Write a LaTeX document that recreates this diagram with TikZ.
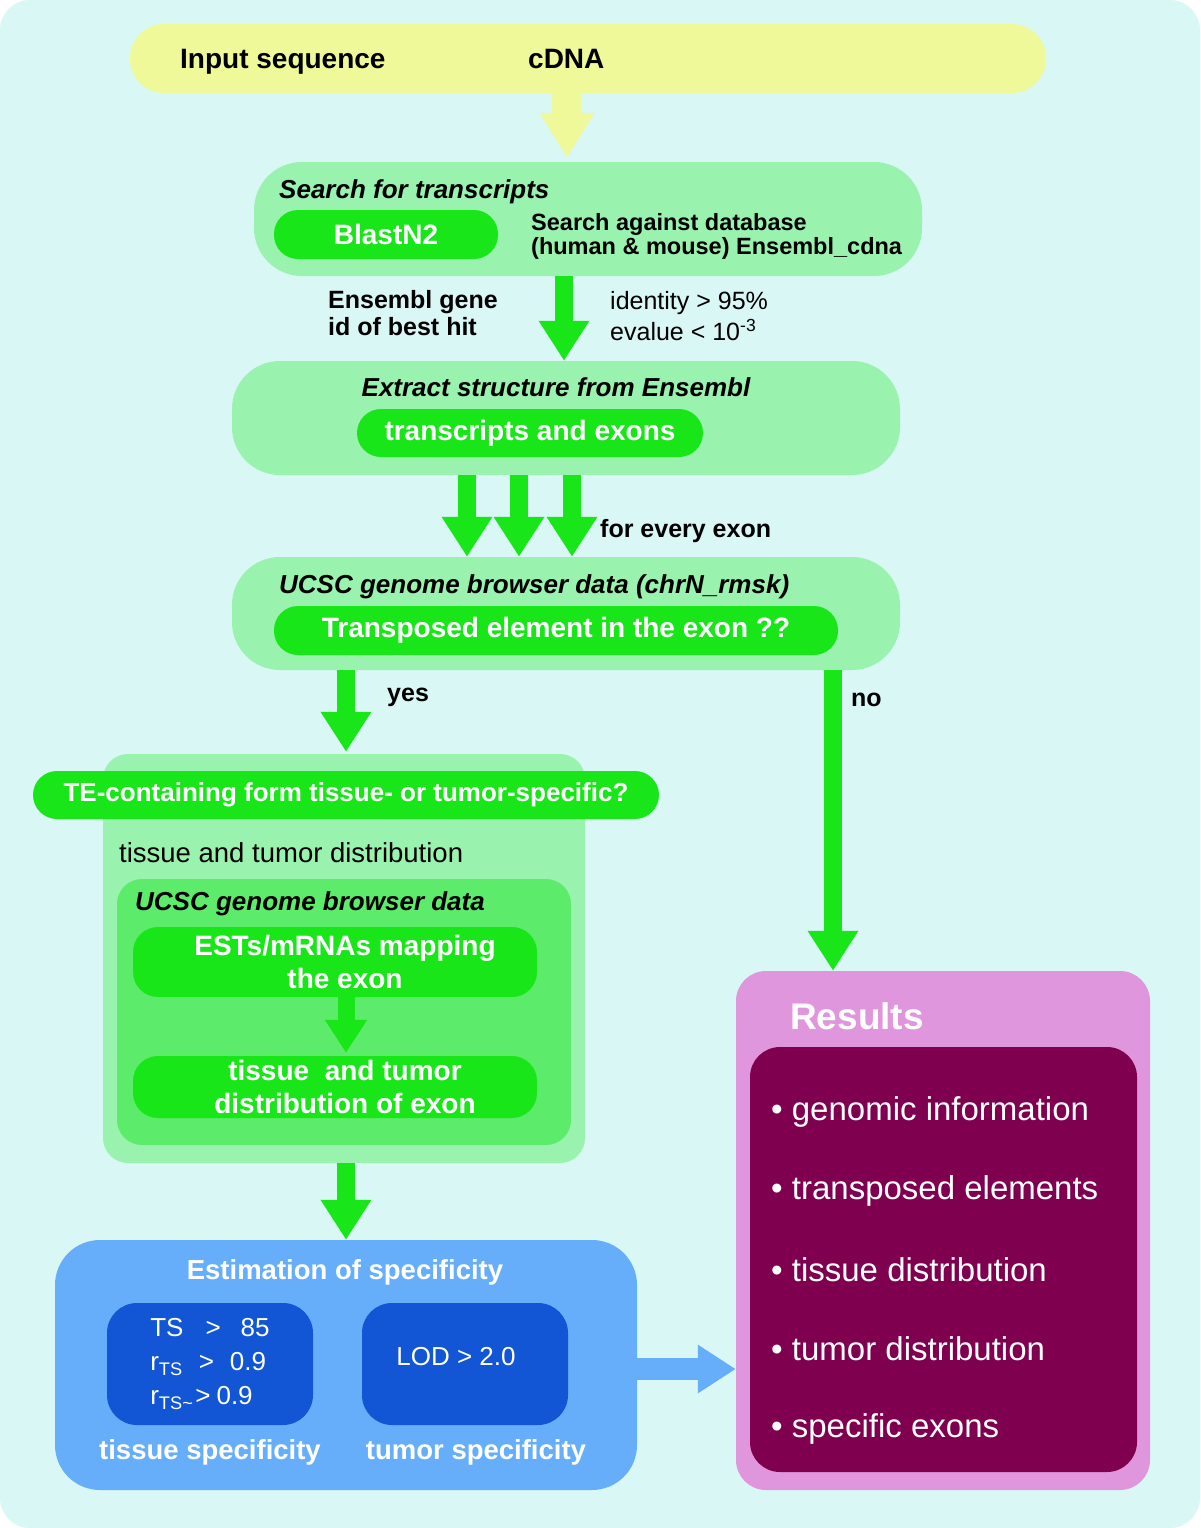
\documentclass[tikz,border=0pt]{standalone}
\usepackage{fontspec}
\setmainfont{Liberation Sans}
\usepackage{tikz}
\usetikzlibrary{arrows.meta}

\definecolor{bgcyan}{HTML}{D9F7F5}
\definecolor{inputyellow}{HTML}{EFF99A}
\definecolor{palegreen}{HTML}{99F2AD}
\definecolor{vividgreen}{HTML}{19E619}
\definecolor{midgreen}{HTML}{5CEB6B}
\definecolor{skyblue}{HTML}{66AEF9}
\definecolor{deepblue}{HTML}{1256D6}
\definecolor{resultpink}{HTML}{E096DC}
\definecolor{resultplum}{HTML}{800050}

\newcommand{\bigfont}{\fontsize{28}{32}\selectfont\bfseries}
\newcommand{\titlefont}{\fontsize{26}{30}\selectfont\bfseries\itshape}
\newcommand{\pillfont}{\fontsize{28}{33}\selectfont\bfseries}
\newcommand{\labelfont}{\fontsize{25}{27}\selectfont\bfseries}
\newcommand{\plainfont}{\fontsize{25}{31}\selectfont}

\begin{document}
\begin{tikzpicture}[x=1pt, y=-1pt,
    panel/.style={fill=palegreen, rounded corners=48pt, inner sep=0pt},
    pill/.style={fill=vividgreen, rounded corners=24pt, inner sep=0pt, text=white, font=\pillfont, align=center},
    boxtitle/.style={font=\titlefont, anchor=west, inner sep=0pt, yshift=-2pt},
    note/.style={font=\labelfont, anchor=west, inner sep=0pt, align=left, yshift=-2pt},
    fat/.style={vividgreen, line width=18pt, -{Triangle[width=48pt,length=40pt]}},
    darkbox/.style={fill=deepblue, rounded corners=30pt, inner sep=0pt, text=white, minimum width=206pt, minimum height=122pt}]
    \useasboundingbox (0,0) rectangle (1200,1528);
    \fill [bgcyan, rounded corners=30pt] (0,0) rectangle (1200,1528);

    \node [fill=inputyellow, rounded corners=34pt, inner sep=0pt, minimum width=916pt, minimum height=69pt] (input) at (588,58.5) {};
    \node [font=\bigfont, anchor=base west, inner sep=0pt] (inlabel) at (180,68) {Input sequence};
    \node [font=\bigfont, anchor=base west, inner sep=0pt] (cdna) at (528,68) {cDNA};

    \node [panel, minimum width=668pt, minimum height=114pt] (search) at (588,219) {};
    \node [boxtitle] (searchtitle) at (279,190) {Search for transcripts};
    \node [pill, minimum width=224pt, minimum height=49pt] (blast) at (386,234.5) {BlastN2};
    \node [note, font=\fontsize{23.5}{24}\selectfont\bfseries] (db) at (531,234) {Search against database\\(human \& mouse) Ensembl\_cdna};
    \node [note] (besthit) at (328,311) {Ensembl gene\\id of best hit};
    \node [note, font=\plainfont] (cutoff) at (610,314) {identity > 95\%\\evalue < 10\textsuperscript{-3}};

    \node [panel, minimum width=668pt, minimum height=114pt] (extract) at (566,418) {};
    \node [font=\titlefont, inner sep=0pt, yshift=-2pt] (extracttitle) at (556,385) {Extract structure from Ensembl};
    \node [pill, minimum width=346pt, minimum height=48pt] (exons) at (530,433) {transcripts and exons};
    \node [note] (every) at (600,529) {for every exon};

    \node [panel, minimum width=668pt, minimum height=113pt] (ucsc) at (566,613.5) {};
    \node [boxtitle] (ucsctitle) at (279,585) {UCSC genome browser data (chrN\_rmsk)};
    \node [pill, minimum width=564pt, minimum height=49pt] (te) at (556,630.5) {Transposed element in the exon ??};
    \node [note] (yes) at (387,695) {yes};
    \node [note] (no) at (851,698) {no};

    \node [panel, rounded corners=25pt, minimum width=482pt, minimum height=409pt] (dist) at (344,958.5) {};
    \node [pill, font=\fontsize{26}{30}\selectfont\bfseries, minimum width=626pt, minimum height=48pt] (tequestion) at (346,795) {TE-containing form tissue- or tumor-specific?};
    \node [note, font=\fontsize{27.5}{30}\selectfont] (disttitle) at (119,851) {tissue and tumor distribution};
    \node [fill=midgreen, rounded corners=25pt, inner sep=0pt, minimum width=454pt, minimum height=266pt] (browser) at (344,1012) {};
    \node [boxtitle] (browsertitle) at (135,902) {UCSC genome browser data};
    \node [pill, rounded corners=25pt, minimum width=404pt, minimum height=70pt] (ests) at (335,962) {\hspace*{20pt}ESTs/mRNAs mapping\\\hspace*{20pt}the exon};
    \node [pill, rounded corners=25pt, minimum width=404pt, minimum height=62pt] (exondist) at (335,1087) {\hspace*{20pt}tissue\ \ and tumor\\\hspace*{20pt}distribution of exon};

    \node [fill=skyblue, rounded corners=45pt, inner sep=0pt, minimum width=582pt, minimum height=250pt] (est) at (346,1365) {};
    \node [font=\fontsize{27.5}{30}\selectfont\bfseries, text=white, inner sep=0pt, yshift=-2pt] (esttitle) at (345,1270) {Estimation of specificity};
    \node [darkbox, align=left, font=\fontsize{26}{34}\selectfont] (tsbox) at (210,1364) {TS\hspace{22pt}>\hspace{20pt}85\\r\textsubscript{TS}\hspace{16pt}>\hspace{16pt}0.9\\r\textsubscript{TS\textasciitilde}\hspace{2pt}>\hspace{6pt}0.9};
    \node [darkbox] (lodbox) at (465,1364) {};
    \node [font=\fontsize{26}{30}\selectfont, text=white, inner sep=0pt] (lod) at (456,1357) {LOD > 2.0};
    \node [font=\fontsize{27.5}{30}\selectfont\bfseries, text=white, inner sep=0pt, yshift=-2pt] (tissuespec) at (210,1450) {tissue specificity};
    \node [font=\fontsize{27.5}{30}\selectfont\bfseries, text=white, inner sep=0pt, yshift=-2pt] (tumorspec) at (476,1450) {tumor specificity};

    \node [fill=resultpink, rounded corners=30pt, inner sep=0pt, minimum width=414pt, minimum height=519pt] (results) at (943,1230.5) {};
    \node [note, font=\fontsize{37}{40}\selectfont\bfseries, text=white] (resultstitle) at (790,1014) {Results};
    \node [fill=resultplum, rounded corners=30pt, inner sep=0pt, minimum width=387pt, minimum height=425pt] (resultlist) at (943.5,1259.5) {};
    \foreach \y/\item [count=\i] in {1110/genomic information, 1189/transposed elements, 1268/tissue distribution, 1347/tumor distribution, 1427/specific exons}
        \node [note, font=\fontsize{33}{36}\selectfont, text=white] (item\i) at (771,\y) {\textbullet\ \item};

    \coordinate (c1) at (567,0);
    \coordinate (c2) at (564,0);
    \coordinate (e1) at (467,0);
    \coordinate (e2) at (519,0);
    \coordinate (e3) at (572,0);
    \coordinate (cy) at (346,0);
    \coordinate (cn) at (833,0);
    \draw [inputyellow, line width=30pt, -{Triangle[width=52pt,length=45pt]}] (input.south -| c1) -- ([yshift=4pt]search.north -| c1);
    \draw [fat] (search.south -| c2) -- (extract.north -| c2);
    \foreach \c in {e1,e2,e3}
        \draw [fat] (extract.south -| \c) -- (ucsc.north -| \c);
    \draw [fat] (ucsc.south -| cy) -- ([yshift=2pt]dist.north -| cy);
    \draw [fat] (ucsc.south -| cn) -- (results.north -| cn);
    \draw [vividgreen, line width=17pt, -{Triangle[width=40pt,length=33pt]}] (ests.south -| cy) -- ([yshift=3pt]exondist.north -| cy);
    \draw [fat] (dist.south -| cy) -- (est.north -| cy);
    \draw [skyblue, line width=22pt, -{Triangle[width=46pt,length=38pt]}] ([yshift=-4pt]est.east) -- ([yshift=-4pt]est.east -| results.west);
\end{tikzpicture}
\end{document}
